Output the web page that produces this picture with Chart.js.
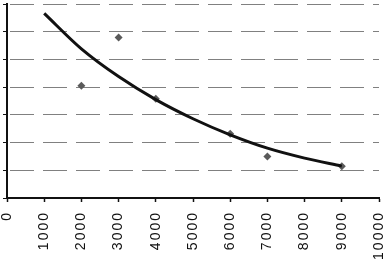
<!DOCTYPE html>
<html>
<head>
<meta charset="utf-8">
<script src="https://cdn.jsdelivr.net/npm/chart.js@4/dist/chart.umd.min.js"></script>
<style>
  html, body { margin: 0; padding: 0; background: #fff; }
  #wrap { width: 385px; height: 264px; position: relative; }
</style>
</head>
<body>
<div id="wrap"><canvas id="chart"></canvas></div>
<script>
// measured points
const pointX = [2000, 3000, 4000, 6000, 7000, 9000];
const pointY = [4.05, 5.79, 3.58, 2.32, 1.50, 1.15];

// trend curve at each 1000
const trendX = [1000, 2000, 3000, 4000, 5000, 6000, 7000, 8000, 9000];
const trendY = [6.66, 5.38, 4.38, 3.55, 2.86, 2.28, 1.80, 1.44, 1.15];

const xTicks = [0, 1000, 2000, 3000, 4000, 5000, 6000, 7000, 8000, 9000, 10000];

const pairs = (xs, ys) => xs.map((x, i) => ({ x: x, y: ys[i] }));

// the labels in the picture are wider than plain Arial
const spacing = {
  id: 'spacing',
  beforeDraw(chart) { chart.ctx.letterSpacing = '2px'; }
};

new Chart(document.getElementById('chart').getContext('2d'), {
  type: 'scatter',
  data: {
    datasets: [
      {
        label: 'Trend',
        data: pairs(trendX, trendY),
        showLine: true,
        borderColor: '#111',
        borderWidth: 3,
        pointRadius: 0,
        cubicInterpolationMode: 'monotone'
      },
      {
        label: 'Data',
        data: pairs(pointX, pointY),
        pointStyle: 'rectRot',
        pointRadius: 4,
        backgroundColor: '#5a5a5a',
        borderColor: '#5a5a5a',
        borderWidth: 0
      }
    ]
  },
  options: {
    responsive: true,
    maintainAspectRatio: false,
    animation: false,
    layout: { padding: { top: 1, right: 6, left: 0, bottom: 0 } },
    plugins: { legend: { display: false }, tooltip: { enabled: false } },
    scales: {
      x: {
        type: 'linear',
        min: 0,
        max: 10000,
        afterBuildTicks: (s) => { s.ticks = xTicks.map(v => ({ value: v })); },
        afterFit: (s) => { s.height = 66; s.paddingLeft = 0; s.paddingRight = 0; },
        grid: { drawOnChartArea: false, drawTicks: true, tickLength: 4, color: '#111', tickWidth: 1.5 },
        border: { color: '#111', width: 2 },
        ticks: {
          minRotation: 90,
          maxRotation: 90,
          padding: 9,
          color: '#111',
          font: { family: 'Liberation Sans, Arial, sans-serif', size: 14 },
          callback: (v) => String(v)
        }
      },
      y: {
        min: 0,
        max: 7,
        afterFit: (s) => { s.width = 7; },
        ticks: { stepSize: 1, display: false },
        grid: {
          color: '#808080',
          lineWidth: 1,
          tickLength: 4,
          tickColor: '#111'
        },
        border: { color: '#111', width: 2, dash: [24, 9], dashOffset: 31 }
      }
    }
  },
  plugins: [spacing]
});
</script>
</body>
</html>
